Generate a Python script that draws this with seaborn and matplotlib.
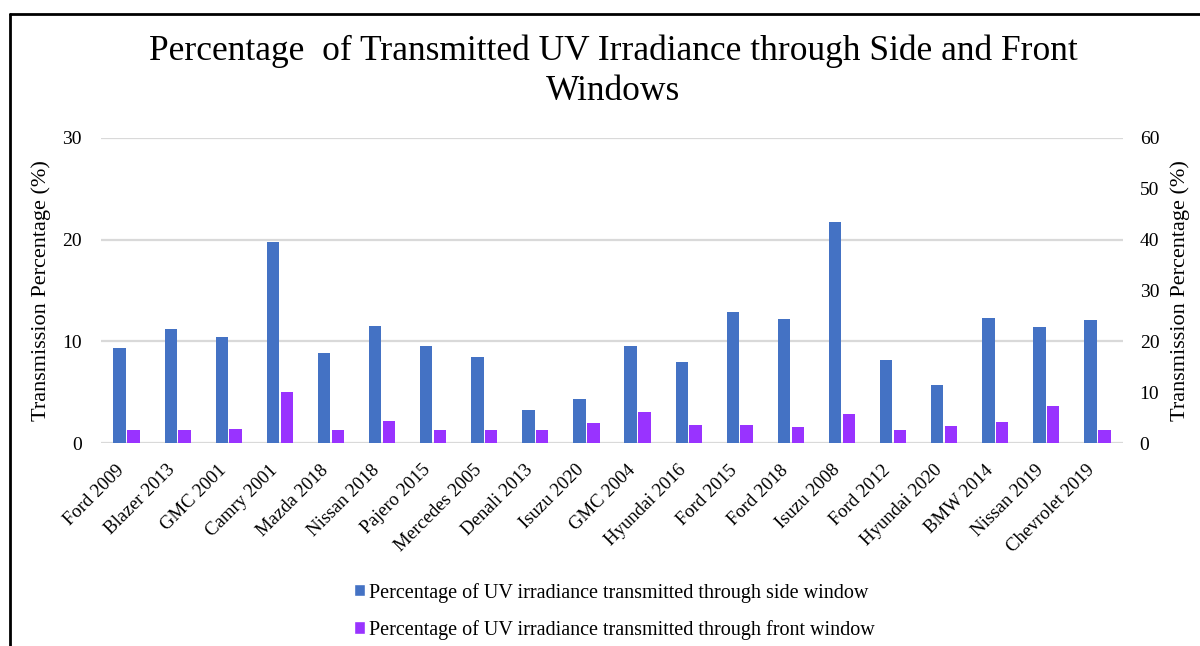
import matplotlib
matplotlib.use("Agg")
import matplotlib.pyplot as plt
import matplotlib.transforms as mtransforms
from matplotlib.patches import Patch
from matplotlib.lines import Line2D
import pandas as pd
import seaborn as sns

# datos
vehiculos = ["Ford 2009", "Blazer 2013", "GMC 2001", "Camry 2001", "Mazda 2018",
             "Nissan 2018", "Pajero 2015", "Mercedes 2005", "Denali 2013", "Isuzu 2020",
             "GMC 2004", "Hyundai 2016", "Ford 2015", "Ford 2018", "Isuzu 2008",
             "Ford 2012", "Hyundai 2020", "BMW 2014", "Nissan 2019", "Chevrolet 2019"]
ventana_lateral = [9.3, 11.2, 10.4, 19.8, 8.9, 11.5, 9.5, 8.5, 3.2, 4.3,
                   9.5, 8.0, 12.9, 12.2, 21.7, 8.2, 5.7, 12.3, 11.4, 12.1]
# eje secundario (0-60)
ventana_frontal = [2.5, 2.5, 2.7, 10.1, 2.5, 4.4, 2.5, 2.5, 2.5, 4.0,
                   6.1, 3.5, 3.5, 3.2, 5.7, 2.5, 3.3, 4.2, 7.2, 2.5]

serie_lat = "Percentage of UV irradiance transmitted through side window"
serie_fro = "Percentage of UV irradiance transmitted through front window"
colores = {serie_lat: "#4472C4", serie_fro: "#9933FF"}
orden = [serie_lat, serie_fro]

df_lat = pd.DataFrame({"vehiculo": vehiculos, "valor": ventana_lateral, "serie": serie_lat})
df_fro = pd.DataFrame({"vehiculo": vehiculos, "valor": ventana_frontal, "serie": serie_fro})

sns.set_style("white")
plt.rcParams["font.family"] = ["Liberation Serif", "DejaVu Serif"]
plt.rcParams["text.color"] = "black"
plt.rcParams["axes.labelcolor"] = "black"
plt.rcParams["xtick.color"] = "black"
plt.rcParams["ytick.color"] = "black"

fig = plt.figure(figsize=(12, 6.46), dpi=100)
ax = fig.add_axes([0.0842, 0.3142, 0.8516, 0.4722])
ax2 = ax.twinx()

sns.barplot(data=df_lat, x="vehiculo", y="valor", hue="serie", hue_order=orden,
            palette=colores, order=vehiculos, width=0.54, gap=0.1, dodge=True,
            saturation=1, linewidth=0, legend=False, ax=ax)
sns.barplot(data=df_fro, x="vehiculo", y="valor", hue="serie", hue_order=orden,
            palette=colores, order=vehiculos, width=0.54, gap=0.1, dodge=True,
            saturation=1, linewidth=0, legend=False, ax=ax2)

ax.set_ylim(0, 30)
ax.set_yticks([0, 10, 20, 30])
ax2.set_ylim(0, 60)
ax2.set_yticks([0, 10, 20, 30, 40, 50, 60])
ax.set_xlim(-0.5, len(vehiculos) - 0.5)

ax.yaxis.grid(True, color="#D9D9D9", linewidth=1.6)
ax.set_axisbelow(True)
ax2.grid(False)
for a in (ax, ax2):
    for s in a.spines.values():
        s.set_visible(False)
    a.set_xlabel("")

ax.tick_params(axis="y", length=0, pad=14, labelsize=14)
ax2.tick_params(axis="y", length=0, pad=12, labelsize=14)
ax.tick_params(axis="x", length=0, pad=4)
ax.set_xticks(range(len(vehiculos)))
ax.set_xticklabels(vehiculos, rotation=45, ha="right", va="center",
                   rotation_mode="anchor", fontsize=13.5)
# desplazar etiquetas como en Excel
desp = mtransforms.ScaledTranslation(-5 / 100, -19 / 100, fig.dpi_scale_trans)
for lbl in ax.get_xticklabels():
    lbl.set_transform(lbl.get_transform() + desp)

ax.set_ylabel("Transmission Percentage (%)", fontsize=16, labelpad=8)
ax2.set_ylabel("Transmission Percentage (%)", fontsize=16, labelpad=8, rotation=90)

fig.suptitle("Percentage  of Transmitted UV Irradiance through Side and Front\nWindows",
             fontsize=25.5, x=0.511, y=0.947, linespacing=1.3)

handles = [Patch(facecolor=colores[s], label=s) for s in orden]
fig.legend(handles=handles, loc="center", bbox_to_anchor=(0.512, 0.054),
           frameon=False, fontsize=14.5, handlelength=0.55, handleheight=0.55,
           handletextpad=0.2, labelspacing=0.85)

# marco negro del recorte
fig.add_artist(Line2D([10 / 1200, 10 / 1200], [0, 1 - 13.5 / 646], color="black",
                      linewidth=2, transform=fig.transFigure))
fig.add_artist(Line2D([10 / 1200, 1], [1 - 13.5 / 646, 1 - 13.5 / 646], color="black",
                      linewidth=2, transform=fig.transFigure))

fig.savefig("out.png", dpi=100)
